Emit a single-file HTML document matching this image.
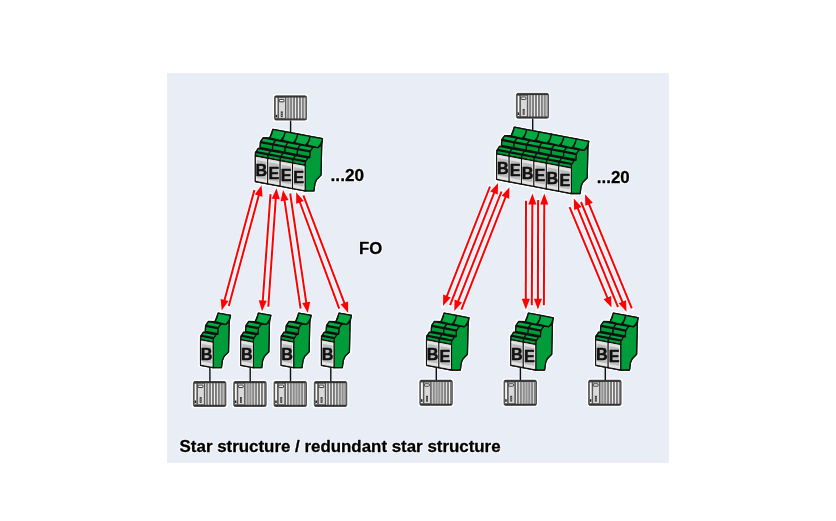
<!DOCTYPE html>
<html><head><meta charset="utf-8">
<style>
html,body{margin:0;padding:0;background:#fff;width:836px;height:521px;overflow:hidden;}
svg{display:block;will-change:transform;}
text{font-family:"Liberation Sans", sans-serif;}
</style></head>
<body>
<svg width="836" height="521" viewBox="0 0 836 521">
<rect x="167" y="73" width="502" height="390" fill="#e9eef6"/>
<line x1="254.40" y1="190.00" x2="221.70" y2="310.40" stroke="#f6fcff" stroke-width="4.2" stroke-linecap="round"/>
<line x1="228.80" y1="305.90" x2="261.50" y2="185.20" stroke="#f6fcff" stroke-width="4.2" stroke-linecap="round"/>
<line x1="270.50" y1="194.10" x2="262.00" y2="311.30" stroke="#f6fcff" stroke-width="4.2" stroke-linecap="round"/>
<line x1="268.30" y1="306.80" x2="276.50" y2="188.20" stroke="#f6fcff" stroke-width="4.2" stroke-linecap="round"/>
<line x1="300.60" y1="308.60" x2="283.00" y2="190.00" stroke="#f6fcff" stroke-width="4.2" stroke-linecap="round"/>
<line x1="290.20" y1="193.50" x2="307.80" y2="313.00" stroke="#f6fcff" stroke-width="4.2" stroke-linecap="round"/>
<line x1="339.20" y1="308.60" x2="296.20" y2="192.30" stroke="#f6fcff" stroke-width="4.2" stroke-linecap="round"/>
<line x1="303.40" y1="195.30" x2="348.20" y2="313.00" stroke="#f6fcff" stroke-width="4.2" stroke-linecap="round"/>
<line x1="490.00" y1="186.50" x2="443.00" y2="306.00" stroke="#f6fcff" stroke-width="4.2" stroke-linecap="round"/>
<line x1="450.10" y1="305.10" x2="498.00" y2="182.90" stroke="#f6fcff" stroke-width="4.2" stroke-linecap="round"/>
<line x1="501.50" y1="191.50" x2="454.30" y2="311.00" stroke="#f6fcff" stroke-width="4.2" stroke-linecap="round"/>
<line x1="461.40" y1="309.70" x2="509.40" y2="187.20" stroke="#f6fcff" stroke-width="4.2" stroke-linecap="round"/>
<line x1="526.00" y1="200.80" x2="525.80" y2="309.60" stroke="#f6fcff" stroke-width="4.2" stroke-linecap="round"/>
<line x1="531.80" y1="305.20" x2="532.40" y2="193.60" stroke="#f6fcff" stroke-width="4.2" stroke-linecap="round"/>
<line x1="538.10" y1="200.10" x2="537.90" y2="309.60" stroke="#f6fcff" stroke-width="4.2" stroke-linecap="round"/>
<line x1="543.90" y1="305.20" x2="544.30" y2="193.60" stroke="#f6fcff" stroke-width="4.2" stroke-linecap="round"/>
<line x1="569.60" y1="207.10" x2="611.50" y2="307.60" stroke="#f6fcff" stroke-width="4.2" stroke-linecap="round"/>
<line x1="618.00" y1="307.20" x2="573.80" y2="198.60" stroke="#f6fcff" stroke-width="4.2" stroke-linecap="round"/>
<line x1="581.00" y1="202.00" x2="626.50" y2="311.80" stroke="#f6fcff" stroke-width="4.2" stroke-linecap="round"/>
<line x1="631.80" y1="308.40" x2="585.00" y2="194.20" stroke="#f6fcff" stroke-width="4.2" stroke-linecap="round"/>
<line x1="254.40" y1="190.00" x2="224.27" y2="300.94" stroke="#ff0000" stroke-width="2.0"/>
<polygon points="221.70,310.40 220.67,298.93 228.39,301.03" fill="#ff0000"/>
<line x1="228.80" y1="305.90" x2="258.94" y2="194.66" stroke="#ff0000" stroke-width="2.0"/>
<polygon points="261.50,185.20 262.54,196.67 254.82,194.58" fill="#ff0000"/>
<line x1="270.50" y1="194.10" x2="262.71" y2="301.53" stroke="#ff0000" stroke-width="2.0"/>
<polygon points="262.00,311.30 258.79,300.24 266.77,300.82" fill="#ff0000"/>
<line x1="268.30" y1="306.80" x2="275.82" y2="197.98" stroke="#ff0000" stroke-width="2.0"/>
<polygon points="276.50,188.20 279.75,199.25 271.76,198.70" fill="#ff0000"/>
<line x1="300.60" y1="308.60" x2="284.44" y2="199.69" stroke="#ff0000" stroke-width="2.0"/>
<polygon points="283.00,190.00 288.54,200.10 280.63,201.27" fill="#ff0000"/>
<line x1="290.20" y1="193.50" x2="306.37" y2="303.30" stroke="#ff0000" stroke-width="2.0"/>
<polygon points="307.80,313.00 302.27,302.90 310.18,301.73" fill="#ff0000"/>
<line x1="339.20" y1="308.60" x2="299.60" y2="201.49" stroke="#ff0000" stroke-width="2.0"/>
<polygon points="296.20,192.30 303.70,201.04 296.19,203.82" fill="#ff0000"/>
<line x1="303.40" y1="195.30" x2="344.71" y2="303.84" stroke="#ff0000" stroke-width="2.0"/>
<polygon points="348.20,313.00 340.62,304.33 348.10,301.48" fill="#ff0000"/>
<line x1="490.00" y1="186.50" x2="446.59" y2="296.88" stroke="#ff0000" stroke-width="2.0"/>
<polygon points="443.00,306.00 443.23,294.49 450.68,297.41" fill="#ff0000"/>
<line x1="450.10" y1="305.10" x2="494.42" y2="192.02" stroke="#ff0000" stroke-width="2.0"/>
<polygon points="498.00,182.90 497.78,194.41 490.33,191.50" fill="#ff0000"/>
<line x1="501.50" y1="191.50" x2="457.90" y2="301.89" stroke="#ff0000" stroke-width="2.0"/>
<polygon points="454.30,311.00 454.55,299.49 461.99,302.42" fill="#ff0000"/>
<line x1="461.40" y1="309.70" x2="505.82" y2="196.32" stroke="#ff0000" stroke-width="2.0"/>
<polygon points="509.40,187.20 509.18,198.71 501.74,195.80" fill="#ff0000"/>
<line x1="526.00" y1="200.80" x2="525.82" y2="299.80" stroke="#ff0000" stroke-width="2.0"/>
<polygon points="525.80,309.60 521.82,298.79 529.82,298.81" fill="#ff0000"/>
<line x1="531.80" y1="305.20" x2="532.35" y2="203.40" stroke="#ff0000" stroke-width="2.0"/>
<polygon points="532.40,193.60 536.34,204.42 528.34,204.38" fill="#ff0000"/>
<line x1="538.10" y1="200.10" x2="537.92" y2="299.80" stroke="#ff0000" stroke-width="2.0"/>
<polygon points="537.90,309.60 533.92,298.79 541.92,298.81" fill="#ff0000"/>
<line x1="543.90" y1="305.20" x2="544.26" y2="203.40" stroke="#ff0000" stroke-width="2.0"/>
<polygon points="544.30,193.60 548.26,204.41 540.26,204.39" fill="#ff0000"/>
<line x1="569.60" y1="207.10" x2="607.73" y2="298.55" stroke="#ff0000" stroke-width="2.0"/>
<polygon points="611.50,307.60 603.65,299.17 611.04,296.09" fill="#ff0000"/>
<line x1="618.00" y1="307.20" x2="577.49" y2="207.68" stroke="#ff0000" stroke-width="2.0"/>
<polygon points="573.80,198.60 581.58,207.10 574.17,210.11" fill="#ff0000"/>
<line x1="581.00" y1="202.00" x2="622.75" y2="302.75" stroke="#ff0000" stroke-width="2.0"/>
<polygon points="626.50,311.80 618.67,303.35 626.06,300.29" fill="#ff0000"/>
<line x1="631.80" y1="308.40" x2="588.72" y2="203.27" stroke="#ff0000" stroke-width="2.0"/>
<polygon points="585.00,194.20 592.80,202.68 585.39,205.71" fill="#ff0000"/>
<rect x="272.80" y="94.10" width="35.50" height="27.70" rx="3" fill="#fff"/>
<rect x="274.50" y="95.80" width="32.10" height="24.30" rx="1.6" fill="#585858" stroke="#3a3a3a" stroke-width="0.75"/>
<rect x="274.90" y="95.90" width="31.30" height="1.5" rx="0.8" fill="#333"/>
<rect x="274.90" y="118.40" width="31.30" height="1.4" rx="0.7" fill="#333"/>
<rect x="275.30" y="97.70" width="2.6" height="20.60" fill="#f6f6f6" stroke="#444" stroke-width="0.6"/>
<rect x="275.70" y="114.80" width="1.5" height="2.6" fill="#222"/>
<rect x="278.70" y="97.70" width="6.6" height="20.60" fill="#d9d9d9" stroke="#444" stroke-width="0.6"/>
<rect x="279.20" y="99.40" width="4.8" height="2.4" rx="0.6" fill="#fafafa" stroke="#222" stroke-width="0.9"/>
<rect x="280.80" y="111.40" width="1.9" height="5.8" fill="#333"/>
<rect x="281.40" y="113.00" width="0.8" height="0.9" fill="#ccc"/>
<rect x="281.40" y="115.00" width="0.8" height="0.9" fill="#ccc"/>
<rect x="286.40" y="97.60" width="1.05" height="20.80" fill="#f2f2f2"/>
<rect x="287.95" y="97.60" width="0.85" height="20.80" fill="#9c9c9c"/>
<rect x="289.28" y="97.60" width="1.05" height="20.80" fill="#f2f2f2"/>
<rect x="290.83" y="97.60" width="0.85" height="20.80" fill="#9c9c9c"/>
<rect x="292.16" y="97.60" width="1.05" height="20.80" fill="#f2f2f2"/>
<rect x="293.71" y="97.60" width="0.85" height="20.80" fill="#9c9c9c"/>
<rect x="295.04" y="97.60" width="1.05" height="20.80" fill="#f2f2f2"/>
<rect x="296.59" y="97.60" width="0.85" height="20.80" fill="#9c9c9c"/>
<rect x="297.92" y="97.60" width="1.05" height="20.80" fill="#f2f2f2"/>
<rect x="299.47" y="97.60" width="0.85" height="20.80" fill="#9c9c9c"/>
<rect x="300.80" y="97.60" width="1.05" height="20.80" fill="#f2f2f2"/>
<rect x="302.35" y="97.60" width="0.85" height="20.80" fill="#9c9c9c"/>
<rect x="303.68" y="97.60" width="1.05" height="20.80" fill="#f2f2f2"/>
<rect x="305.23" y="97.60" width="0.85" height="20.80" fill="#9c9c9c"/>
<rect x="514.70" y="91.70" width="35.60" height="28.20" rx="3" fill="#fff"/>
<rect x="516.40" y="93.40" width="32.20" height="24.80" rx="1.6" fill="#585858" stroke="#3a3a3a" stroke-width="0.75"/>
<rect x="516.80" y="93.50" width="31.40" height="1.5" rx="0.8" fill="#333"/>
<rect x="516.80" y="116.50" width="31.40" height="1.4" rx="0.7" fill="#333"/>
<rect x="517.20" y="95.30" width="2.6" height="21.10" fill="#f6f6f6" stroke="#444" stroke-width="0.6"/>
<rect x="517.60" y="112.40" width="1.5" height="2.6" fill="#222"/>
<rect x="520.60" y="95.30" width="6.6" height="21.10" fill="#d9d9d9" stroke="#444" stroke-width="0.6"/>
<rect x="521.10" y="97.00" width="4.8" height="2.4" rx="0.6" fill="#fafafa" stroke="#222" stroke-width="0.9"/>
<rect x="522.70" y="109.00" width="1.9" height="5.8" fill="#333"/>
<rect x="523.30" y="110.60" width="0.8" height="0.9" fill="#ccc"/>
<rect x="523.30" y="112.60" width="0.8" height="0.9" fill="#ccc"/>
<rect x="528.30" y="95.20" width="1.05" height="21.30" fill="#f2f2f2"/>
<rect x="529.85" y="95.20" width="0.85" height="21.30" fill="#9c9c9c"/>
<rect x="531.18" y="95.20" width="1.05" height="21.30" fill="#f2f2f2"/>
<rect x="532.73" y="95.20" width="0.85" height="21.30" fill="#9c9c9c"/>
<rect x="534.06" y="95.20" width="1.05" height="21.30" fill="#f2f2f2"/>
<rect x="535.61" y="95.20" width="0.85" height="21.30" fill="#9c9c9c"/>
<rect x="536.94" y="95.20" width="1.05" height="21.30" fill="#f2f2f2"/>
<rect x="538.49" y="95.20" width="0.85" height="21.30" fill="#9c9c9c"/>
<rect x="539.82" y="95.20" width="1.05" height="21.30" fill="#f2f2f2"/>
<rect x="541.37" y="95.20" width="0.85" height="21.30" fill="#9c9c9c"/>
<rect x="542.70" y="95.20" width="1.05" height="21.30" fill="#f2f2f2"/>
<rect x="544.25" y="95.20" width="0.85" height="21.30" fill="#9c9c9c"/>
<rect x="545.58" y="95.20" width="1.05" height="21.30" fill="#f2f2f2"/>
<rect x="547.13" y="95.20" width="0.85" height="21.30" fill="#9c9c9c"/>
<polygon points="255.40,181.50 255.40,155.90 255.40,152.30 256.30,151.50 258.20,148.40 260.10,148.30 260.40,142.50 260.60,141.50 263.30,137.70 269.80,137.80 272.90,129.30 322.50,138.70 321.80,139.30 321.00,175.10 316.60,179.60 314.90,183.40 313.90,190.90 305.00,190.90" fill="#fff" stroke="#fff" stroke-width="4.2" stroke-linejoin="round"/>
<polygon points="255.40,181.50 255.40,155.90 255.40,152.30 256.30,151.50 258.20,148.40 260.10,148.30 260.40,142.50 260.60,141.50 263.30,137.70 269.80,137.80 272.90,129.30 322.50,138.70 321.80,139.30 321.00,175.10 316.60,179.60 314.90,183.40 313.90,190.90 305.00,190.90" fill="#111" stroke="#111" stroke-width="1.3" stroke-linejoin="round"/>
<polygon points="305.00,190.90 305.00,165.30 305.00,161.70 305.90,160.90 307.80,157.80 309.70,157.70 310.00,151.90 310.20,150.90 312.90,147.10 317.80,147.60 321.80,144.90 322.50,138.70 321.80,139.30 321.00,175.10 316.60,179.60 314.90,183.40 313.90,190.90" fill="#009c3a" stroke="#111" stroke-width="1.3" stroke-linejoin="round"/>
<polygon points="255.70,152.40 255.40,155.90 267.80,158.25 268.10,154.75" fill="#009c3a" stroke="#111" stroke-width="1.3" stroke-linejoin="round"/>
<polygon points="268.10,154.75 267.80,158.25 280.20,160.60 280.50,157.10" fill="#009c3a" stroke="#111" stroke-width="1.3" stroke-linejoin="round"/>
<polygon points="280.50,157.10 280.20,160.60 292.60,162.95 292.90,159.45" fill="#009c3a" stroke="#111" stroke-width="1.3" stroke-linejoin="round"/>
<polygon points="292.90,159.45 292.60,162.95 305.00,165.30 305.30,161.80" fill="#009c3a" stroke="#111" stroke-width="1.3" stroke-linejoin="round"/>
<polygon points="258.20,148.50 256.30,151.60 268.70,153.95 270.60,150.85" fill="#00ab42" stroke="#111" stroke-width="1.3" stroke-linejoin="round"/>
<polygon points="270.60,150.85 268.70,153.95 281.10,156.30 283.00,153.20" fill="#00ab42" stroke="#111" stroke-width="1.3" stroke-linejoin="round"/>
<polygon points="283.00,153.20 281.10,156.30 293.50,158.65 295.40,155.55" fill="#00ab42" stroke="#111" stroke-width="1.3" stroke-linejoin="round"/>
<polygon points="295.40,155.55 293.50,158.65 305.90,161.00 307.80,157.90" fill="#00ab42" stroke="#111" stroke-width="1.3" stroke-linejoin="round"/>
<polygon points="260.40,142.50 260.10,147.50 272.50,149.85 272.80,144.85" fill="#009c3a" stroke="#111" stroke-width="1.3" stroke-linejoin="round"/>
<polygon points="272.80,144.85 272.50,149.85 284.90,152.20 285.20,147.20" fill="#009c3a" stroke="#111" stroke-width="1.3" stroke-linejoin="round"/>
<polygon points="285.20,147.20 284.90,152.20 297.30,154.55 297.60,149.55" fill="#009c3a" stroke="#111" stroke-width="1.3" stroke-linejoin="round"/>
<polygon points="297.60,149.55 297.30,154.55 309.70,156.90 310.00,151.90" fill="#009c3a" stroke="#111" stroke-width="1.3" stroke-linejoin="round"/>
<polygon points="263.30,137.90 260.60,141.60 273.00,143.95 275.70,140.25" fill="#00ab42" stroke="#111" stroke-width="1.3" stroke-linejoin="round"/>
<polygon points="275.70,140.25 273.00,143.95 285.40,146.30 288.10,142.60" fill="#00ab42" stroke="#111" stroke-width="1.3" stroke-linejoin="round"/>
<polygon points="288.10,142.60 285.40,146.30 297.80,148.65 300.50,144.95" fill="#00ab42" stroke="#111" stroke-width="1.3" stroke-linejoin="round"/>
<polygon points="300.50,144.95 297.80,148.65 310.20,151.00 312.90,147.30" fill="#00ab42" stroke="#111" stroke-width="1.3" stroke-linejoin="round"/>
<path d="M272.90,129.30 L285.30,131.65 Q284.50,137.12 280.50,140.60 L269.80,137.90 Q272.35,133.60 272.90,129.30 Z" fill="#00ab42" stroke="#111" stroke-width="1.3" stroke-linejoin="round"/>
<path d="M285.30,131.65 L297.70,134.00 Q296.90,139.47 292.90,142.95 L282.20,140.25 Q284.75,135.95 285.30,131.65 Z" fill="#00ab42" stroke="#111" stroke-width="1.3" stroke-linejoin="round"/>
<path d="M297.70,134.00 L310.10,136.35 Q309.30,141.82 305.30,145.30 L294.60,142.60 Q297.15,138.30 297.70,134.00 Z" fill="#00ab42" stroke="#111" stroke-width="1.3" stroke-linejoin="round"/>
<path d="M310.10,136.35 L322.50,138.70 Q321.70,144.18 317.70,147.65 L307.00,144.95 Q309.55,140.65 310.10,136.35 Z" fill="#00ab42" stroke="#111" stroke-width="1.3" stroke-linejoin="round"/>
<polygon points="255.40,181.50 255.40,155.90 267.80,158.25 267.80,183.85" fill="#bcbcbc" stroke="#111" stroke-width="1.3" stroke-linejoin="round"/>
<polygon points="256.30,156.97 266.90,158.98 266.90,161.98 256.30,159.97" fill="#e2e2e2"/>
<polygon points="256.30,177.77 266.90,179.78 266.90,182.78 256.30,180.77" fill="#e2e2e2"/>
<line x1="256.40" y1="157.09" x2="256.40" y2="180.69" stroke="#f4f4f4" stroke-width="0.8"/>
<line x1="266.80" y1="159.06" x2="266.80" y2="182.66" stroke="#f4f4f4" stroke-width="0.8"/>
<polygon points="267.80,183.85 267.80,158.25 280.20,160.60 280.20,186.20" fill="#bcbcbc" stroke="#111" stroke-width="1.3" stroke-linejoin="round"/>
<polygon points="268.70,159.32 279.30,161.33 279.30,164.33 268.70,162.32" fill="#e2e2e2"/>
<polygon points="268.70,180.12 279.30,182.13 279.30,185.13 268.70,183.12" fill="#e2e2e2"/>
<line x1="268.80" y1="159.44" x2="268.80" y2="183.04" stroke="#f4f4f4" stroke-width="0.8"/>
<line x1="279.20" y1="161.41" x2="279.20" y2="185.01" stroke="#f4f4f4" stroke-width="0.8"/>
<polygon points="280.20,186.20 280.20,160.60 292.60,162.95 292.60,188.55" fill="#bcbcbc" stroke="#111" stroke-width="1.3" stroke-linejoin="round"/>
<polygon points="281.10,161.67 291.70,163.68 291.70,166.68 281.10,164.67" fill="#e2e2e2"/>
<polygon points="281.10,182.47 291.70,184.48 291.70,187.48 281.10,185.47" fill="#e2e2e2"/>
<line x1="281.20" y1="161.79" x2="281.20" y2="185.39" stroke="#f4f4f4" stroke-width="0.8"/>
<line x1="291.60" y1="163.76" x2="291.60" y2="187.36" stroke="#f4f4f4" stroke-width="0.8"/>
<polygon points="292.60,188.55 292.60,162.95 305.00,165.30 305.00,190.90" fill="#bcbcbc" stroke="#111" stroke-width="1.3" stroke-linejoin="round"/>
<polygon points="293.50,164.02 304.10,166.03 304.10,169.03 293.50,167.02" fill="#e2e2e2"/>
<polygon points="293.50,184.82 304.10,186.83 304.10,189.83 293.50,187.82" fill="#e2e2e2"/>
<line x1="293.60" y1="164.14" x2="293.60" y2="187.74" stroke="#f4f4f4" stroke-width="0.8"/>
<line x1="304.00" y1="166.11" x2="304.00" y2="189.71" stroke="#f4f4f4" stroke-width="0.8"/>
<text x="261.40" y="176.20" text-anchor="middle" font-family="Liberation Sans" font-weight="bold" font-size="16.2" fill="#111" stroke="#111" stroke-width="0.5">B</text>
<text x="273.80" y="178.55" text-anchor="middle" font-family="Liberation Sans" font-weight="bold" font-size="16.2" fill="#111" stroke="#111" stroke-width="0.5">E</text>
<text x="286.20" y="180.90" text-anchor="middle" font-family="Liberation Sans" font-weight="bold" font-size="16.2" fill="#111" stroke="#111" stroke-width="0.5">E</text>
<text x="298.60" y="183.25" text-anchor="middle" font-family="Liberation Sans" font-weight="bold" font-size="16.2" fill="#111" stroke="#111" stroke-width="0.5">E</text>
<polygon points="496.80,179.40 496.80,153.80 496.80,150.20 497.70,149.40 499.60,146.30 501.50,146.20 501.80,140.40 502.00,139.40 504.70,135.60 511.20,135.70 514.30,127.20 588.70,141.30 588.00,141.90 587.20,177.70 582.80,182.20 581.10,186.00 580.10,193.50 571.20,193.50" fill="#fff" stroke="#fff" stroke-width="4.2" stroke-linejoin="round"/>
<polygon points="496.80,179.40 496.80,153.80 496.80,150.20 497.70,149.40 499.60,146.30 501.50,146.20 501.80,140.40 502.00,139.40 504.70,135.60 511.20,135.70 514.30,127.20 588.70,141.30 588.00,141.90 587.20,177.70 582.80,182.20 581.10,186.00 580.10,193.50 571.20,193.50" fill="#111" stroke="#111" stroke-width="1.3" stroke-linejoin="round"/>
<polygon points="571.20,193.50 571.20,167.90 571.20,164.30 572.10,163.50 574.00,160.40 575.90,160.30 576.20,154.50 576.40,153.50 579.10,149.70 584.00,150.20 588.00,147.50 588.70,141.30 588.00,141.90 587.20,177.70 582.80,182.20 581.10,186.00 580.10,193.50" fill="#009c3a" stroke="#111" stroke-width="1.3" stroke-linejoin="round"/>
<polygon points="497.10,150.30 496.80,153.80 509.20,156.15 509.50,152.65" fill="#009c3a" stroke="#111" stroke-width="1.3" stroke-linejoin="round"/>
<polygon points="509.50,152.65 509.20,156.15 521.60,158.50 521.90,155.00" fill="#009c3a" stroke="#111" stroke-width="1.3" stroke-linejoin="round"/>
<polygon points="521.90,155.00 521.60,158.50 534.00,160.85 534.30,157.35" fill="#009c3a" stroke="#111" stroke-width="1.3" stroke-linejoin="round"/>
<polygon points="534.30,157.35 534.00,160.85 546.40,163.20 546.70,159.70" fill="#009c3a" stroke="#111" stroke-width="1.3" stroke-linejoin="round"/>
<polygon points="546.70,159.70 546.40,163.20 558.80,165.55 559.10,162.05" fill="#009c3a" stroke="#111" stroke-width="1.3" stroke-linejoin="round"/>
<polygon points="559.10,162.05 558.80,165.55 571.20,167.90 571.50,164.40" fill="#009c3a" stroke="#111" stroke-width="1.3" stroke-linejoin="round"/>
<polygon points="499.60,146.40 497.70,149.50 510.10,151.85 512.00,148.75" fill="#00ab42" stroke="#111" stroke-width="1.3" stroke-linejoin="round"/>
<polygon points="512.00,148.75 510.10,151.85 522.50,154.20 524.40,151.10" fill="#00ab42" stroke="#111" stroke-width="1.3" stroke-linejoin="round"/>
<polygon points="524.40,151.10 522.50,154.20 534.90,156.55 536.80,153.45" fill="#00ab42" stroke="#111" stroke-width="1.3" stroke-linejoin="round"/>
<polygon points="536.80,153.45 534.90,156.55 547.30,158.90 549.20,155.80" fill="#00ab42" stroke="#111" stroke-width="1.3" stroke-linejoin="round"/>
<polygon points="549.20,155.80 547.30,158.90 559.70,161.25 561.60,158.15" fill="#00ab42" stroke="#111" stroke-width="1.3" stroke-linejoin="round"/>
<polygon points="561.60,158.15 559.70,161.25 572.10,163.60 574.00,160.50" fill="#00ab42" stroke="#111" stroke-width="1.3" stroke-linejoin="round"/>
<polygon points="501.80,140.40 501.50,145.40 513.90,147.75 514.20,142.75" fill="#009c3a" stroke="#111" stroke-width="1.3" stroke-linejoin="round"/>
<polygon points="514.20,142.75 513.90,147.75 526.30,150.10 526.60,145.10" fill="#009c3a" stroke="#111" stroke-width="1.3" stroke-linejoin="round"/>
<polygon points="526.60,145.10 526.30,150.10 538.70,152.45 539.00,147.45" fill="#009c3a" stroke="#111" stroke-width="1.3" stroke-linejoin="round"/>
<polygon points="539.00,147.45 538.70,152.45 551.10,154.80 551.40,149.80" fill="#009c3a" stroke="#111" stroke-width="1.3" stroke-linejoin="round"/>
<polygon points="551.40,149.80 551.10,154.80 563.50,157.15 563.80,152.15" fill="#009c3a" stroke="#111" stroke-width="1.3" stroke-linejoin="round"/>
<polygon points="563.80,152.15 563.50,157.15 575.90,159.50 576.20,154.50" fill="#009c3a" stroke="#111" stroke-width="1.3" stroke-linejoin="round"/>
<polygon points="504.70,135.80 502.00,139.50 514.40,141.85 517.10,138.15" fill="#00ab42" stroke="#111" stroke-width="1.3" stroke-linejoin="round"/>
<polygon points="517.10,138.15 514.40,141.85 526.80,144.20 529.50,140.50" fill="#00ab42" stroke="#111" stroke-width="1.3" stroke-linejoin="round"/>
<polygon points="529.50,140.50 526.80,144.20 539.20,146.55 541.90,142.85" fill="#00ab42" stroke="#111" stroke-width="1.3" stroke-linejoin="round"/>
<polygon points="541.90,142.85 539.20,146.55 551.60,148.90 554.30,145.20" fill="#00ab42" stroke="#111" stroke-width="1.3" stroke-linejoin="round"/>
<polygon points="554.30,145.20 551.60,148.90 564.00,151.25 566.70,147.55" fill="#00ab42" stroke="#111" stroke-width="1.3" stroke-linejoin="round"/>
<polygon points="566.70,147.55 564.00,151.25 576.40,153.60 579.10,149.90" fill="#00ab42" stroke="#111" stroke-width="1.3" stroke-linejoin="round"/>
<path d="M514.30,127.20 L526.70,129.55 Q525.90,135.03 521.90,138.50 L511.20,135.80 Q513.75,131.50 514.30,127.20 Z" fill="#00ab42" stroke="#111" stroke-width="1.3" stroke-linejoin="round"/>
<path d="M526.70,129.55 L539.10,131.90 Q538.30,137.38 534.30,140.85 L523.60,138.15 Q526.15,133.85 526.70,129.55 Z" fill="#00ab42" stroke="#111" stroke-width="1.3" stroke-linejoin="round"/>
<path d="M539.10,131.90 L551.50,134.25 Q550.70,139.72 546.70,143.20 L536.00,140.50 Q538.55,136.20 539.10,131.90 Z" fill="#00ab42" stroke="#111" stroke-width="1.3" stroke-linejoin="round"/>
<path d="M551.50,134.25 L563.90,136.60 Q563.10,142.08 559.10,145.55 L548.40,142.85 Q550.95,138.55 551.50,134.25 Z" fill="#00ab42" stroke="#111" stroke-width="1.3" stroke-linejoin="round"/>
<path d="M563.90,136.60 L576.30,138.95 Q575.50,144.43 571.50,147.90 L560.80,145.20 Q563.35,140.90 563.90,136.60 Z" fill="#00ab42" stroke="#111" stroke-width="1.3" stroke-linejoin="round"/>
<path d="M576.30,138.95 L588.70,141.30 Q587.90,146.78 583.90,150.25 L573.20,147.55 Q575.75,143.25 576.30,138.95 Z" fill="#00ab42" stroke="#111" stroke-width="1.3" stroke-linejoin="round"/>
<polygon points="496.80,179.40 496.80,153.80 509.20,156.15 509.20,181.75" fill="#bcbcbc" stroke="#111" stroke-width="1.3" stroke-linejoin="round"/>
<polygon points="497.70,154.87 508.30,156.88 508.30,159.88 497.70,157.87" fill="#e2e2e2"/>
<polygon points="497.70,175.67 508.30,177.68 508.30,180.68 497.70,178.67" fill="#e2e2e2"/>
<line x1="497.80" y1="154.99" x2="497.80" y2="178.59" stroke="#f4f4f4" stroke-width="0.8"/>
<line x1="508.20" y1="156.96" x2="508.20" y2="180.56" stroke="#f4f4f4" stroke-width="0.8"/>
<polygon points="509.20,181.75 509.20,156.15 521.60,158.50 521.60,184.10" fill="#bcbcbc" stroke="#111" stroke-width="1.3" stroke-linejoin="round"/>
<polygon points="510.10,157.22 520.70,159.23 520.70,162.23 510.10,160.22" fill="#e2e2e2"/>
<polygon points="510.10,178.02 520.70,180.03 520.70,183.03 510.10,181.02" fill="#e2e2e2"/>
<line x1="510.20" y1="157.34" x2="510.20" y2="180.94" stroke="#f4f4f4" stroke-width="0.8"/>
<line x1="520.60" y1="159.31" x2="520.60" y2="182.91" stroke="#f4f4f4" stroke-width="0.8"/>
<polygon points="521.60,184.10 521.60,158.50 534.00,160.85 534.00,186.45" fill="#bcbcbc" stroke="#111" stroke-width="1.3" stroke-linejoin="round"/>
<polygon points="522.50,159.57 533.10,161.58 533.10,164.58 522.50,162.57" fill="#e2e2e2"/>
<polygon points="522.50,180.37 533.10,182.38 533.10,185.38 522.50,183.37" fill="#e2e2e2"/>
<line x1="522.60" y1="159.69" x2="522.60" y2="183.29" stroke="#f4f4f4" stroke-width="0.8"/>
<line x1="533.00" y1="161.66" x2="533.00" y2="185.26" stroke="#f4f4f4" stroke-width="0.8"/>
<polygon points="534.00,186.45 534.00,160.85 546.40,163.20 546.40,188.80" fill="#bcbcbc" stroke="#111" stroke-width="1.3" stroke-linejoin="round"/>
<polygon points="534.90,161.92 545.50,163.93 545.50,166.93 534.90,164.92" fill="#e2e2e2"/>
<polygon points="534.90,182.72 545.50,184.73 545.50,187.73 534.90,185.72" fill="#e2e2e2"/>
<line x1="535.00" y1="162.04" x2="535.00" y2="185.64" stroke="#f4f4f4" stroke-width="0.8"/>
<line x1="545.40" y1="164.01" x2="545.40" y2="187.61" stroke="#f4f4f4" stroke-width="0.8"/>
<polygon points="546.40,188.80 546.40,163.20 558.80,165.55 558.80,191.15" fill="#bcbcbc" stroke="#111" stroke-width="1.3" stroke-linejoin="round"/>
<polygon points="547.30,164.27 557.90,166.28 557.90,169.28 547.30,167.27" fill="#e2e2e2"/>
<polygon points="547.30,185.07 557.90,187.08 557.90,190.08 547.30,188.07" fill="#e2e2e2"/>
<line x1="547.40" y1="164.39" x2="547.40" y2="187.99" stroke="#f4f4f4" stroke-width="0.8"/>
<line x1="557.80" y1="166.36" x2="557.80" y2="189.96" stroke="#f4f4f4" stroke-width="0.8"/>
<polygon points="558.80,191.15 558.80,165.55 571.20,167.90 571.20,193.50" fill="#bcbcbc" stroke="#111" stroke-width="1.3" stroke-linejoin="round"/>
<polygon points="559.70,166.62 570.30,168.63 570.30,171.63 559.70,169.62" fill="#e2e2e2"/>
<polygon points="559.70,187.42 570.30,189.43 570.30,192.43 559.70,190.42" fill="#e2e2e2"/>
<line x1="559.80" y1="166.74" x2="559.80" y2="190.34" stroke="#f4f4f4" stroke-width="0.8"/>
<line x1="570.20" y1="168.71" x2="570.20" y2="192.31" stroke="#f4f4f4" stroke-width="0.8"/>
<text x="502.80" y="174.10" text-anchor="middle" font-family="Liberation Sans" font-weight="bold" font-size="16.2" fill="#111" stroke="#111" stroke-width="0.5">B</text>
<text x="515.20" y="176.45" text-anchor="middle" font-family="Liberation Sans" font-weight="bold" font-size="16.2" fill="#111" stroke="#111" stroke-width="0.5">E</text>
<text x="527.60" y="178.80" text-anchor="middle" font-family="Liberation Sans" font-weight="bold" font-size="16.2" fill="#111" stroke="#111" stroke-width="0.5">B</text>
<text x="540.00" y="181.15" text-anchor="middle" font-family="Liberation Sans" font-weight="bold" font-size="16.2" fill="#111" stroke="#111" stroke-width="0.5">E</text>
<text x="552.40" y="183.50" text-anchor="middle" font-family="Liberation Sans" font-weight="bold" font-size="16.2" fill="#111" stroke="#111" stroke-width="0.5">B</text>
<text x="564.80" y="185.85" text-anchor="middle" font-family="Liberation Sans" font-weight="bold" font-size="16.2" fill="#111" stroke="#111" stroke-width="0.5">E</text>
<polygon points="200.60,365.30 200.60,339.70 200.60,336.10 201.50,335.30 203.40,332.20 205.30,332.10 205.60,326.30 205.80,325.30 208.50,321.50 215.00,321.60 218.10,313.10 230.50,315.45 229.30,316.05 228.50,351.85 224.10,356.35 222.40,360.15 221.40,367.65 213.00,367.65" fill="#fff" stroke="#fff" stroke-width="4.2" stroke-linejoin="round"/>
<polygon points="200.60,365.30 200.60,339.70 200.60,336.10 201.50,335.30 203.40,332.20 205.30,332.10 205.60,326.30 205.80,325.30 208.50,321.50 215.00,321.60 218.10,313.10 230.50,315.45 229.30,316.05 228.50,351.85 224.10,356.35 222.40,360.15 221.40,367.65 213.00,367.65" fill="#111" stroke="#111" stroke-width="1.3" stroke-linejoin="round"/>
<polygon points="213.00,367.65 213.00,342.05 213.00,338.45 213.90,337.65 215.80,334.55 217.70,334.45 218.00,328.65 218.20,327.65 220.90,323.85 225.80,324.35 229.30,321.65 230.50,315.45 229.30,316.05 228.50,351.85 224.10,356.35 222.40,360.15 221.40,367.65" fill="#009c3a" stroke="#111" stroke-width="1.3" stroke-linejoin="round"/>
<polygon points="200.90,336.20 200.60,339.70 213.00,342.05 213.30,338.55" fill="#009c3a" stroke="#111" stroke-width="1.3" stroke-linejoin="round"/>
<polygon points="203.40,332.30 201.50,335.40 213.90,337.75 215.80,334.65" fill="#00ab42" stroke="#111" stroke-width="1.3" stroke-linejoin="round"/>
<polygon points="205.60,326.30 205.30,331.30 217.70,333.65 218.00,328.65" fill="#009c3a" stroke="#111" stroke-width="1.3" stroke-linejoin="round"/>
<polygon points="208.50,321.70 205.80,325.40 218.20,327.75 220.90,324.05" fill="#00ab42" stroke="#111" stroke-width="1.3" stroke-linejoin="round"/>
<path d="M218.10,313.10 L230.50,315.45 Q229.70,320.93 225.70,324.40 L215.00,321.70 Q217.55,317.40 218.10,313.10 Z" fill="#00ab42" stroke="#111" stroke-width="1.3" stroke-linejoin="round"/>
<polygon points="200.60,365.30 200.60,339.70 213.00,342.05 213.00,367.65" fill="#bcbcbc" stroke="#111" stroke-width="1.3" stroke-linejoin="round"/>
<polygon points="201.50,340.77 212.10,342.78 212.10,345.78 201.50,343.77" fill="#e2e2e2"/>
<polygon points="201.50,361.57 212.10,363.58 212.10,366.58 201.50,364.57" fill="#e2e2e2"/>
<line x1="201.60" y1="340.89" x2="201.60" y2="364.49" stroke="#f4f4f4" stroke-width="0.8"/>
<line x1="212.00" y1="342.86" x2="212.00" y2="366.46" stroke="#f4f4f4" stroke-width="0.8"/>
<text x="206.60" y="360.00" text-anchor="middle" font-family="Liberation Sans" font-weight="bold" font-size="16.2" fill="#111" stroke="#111" stroke-width="0.5">B</text>
<rect x="191.70" y="379.80" width="35.90" height="28.40" rx="3" fill="#fff"/>
<rect x="193.40" y="381.50" width="32.50" height="25.00" rx="1.6" fill="#585858" stroke="#3a3a3a" stroke-width="0.75"/>
<rect x="193.80" y="381.60" width="31.70" height="1.5" rx="0.8" fill="#333"/>
<rect x="193.80" y="404.80" width="31.70" height="1.4" rx="0.7" fill="#333"/>
<rect x="194.20" y="383.40" width="2.6" height="21.30" fill="#f6f6f6" stroke="#444" stroke-width="0.6"/>
<rect x="194.60" y="400.50" width="1.5" height="2.6" fill="#222"/>
<rect x="197.60" y="383.40" width="6.6" height="21.30" fill="#d9d9d9" stroke="#444" stroke-width="0.6"/>
<rect x="198.10" y="385.10" width="4.8" height="2.4" rx="0.6" fill="#fafafa" stroke="#222" stroke-width="0.9"/>
<rect x="199.70" y="397.10" width="1.9" height="5.8" fill="#333"/>
<rect x="200.30" y="398.70" width="0.8" height="0.9" fill="#ccc"/>
<rect x="200.30" y="400.70" width="0.8" height="0.9" fill="#ccc"/>
<rect x="205.30" y="383.30" width="1.05" height="21.50" fill="#f2f2f2"/>
<rect x="206.85" y="383.30" width="0.85" height="21.50" fill="#9c9c9c"/>
<rect x="208.18" y="383.30" width="1.05" height="21.50" fill="#f2f2f2"/>
<rect x="209.73" y="383.30" width="0.85" height="21.50" fill="#9c9c9c"/>
<rect x="211.06" y="383.30" width="1.05" height="21.50" fill="#f2f2f2"/>
<rect x="212.61" y="383.30" width="0.85" height="21.50" fill="#9c9c9c"/>
<rect x="213.94" y="383.30" width="1.05" height="21.50" fill="#f2f2f2"/>
<rect x="215.49" y="383.30" width="0.85" height="21.50" fill="#9c9c9c"/>
<rect x="216.82" y="383.30" width="1.05" height="21.50" fill="#f2f2f2"/>
<rect x="218.37" y="383.30" width="0.85" height="21.50" fill="#9c9c9c"/>
<rect x="219.70" y="383.30" width="1.05" height="21.50" fill="#f2f2f2"/>
<rect x="221.25" y="383.30" width="0.85" height="21.50" fill="#9c9c9c"/>
<rect x="222.58" y="383.30" width="1.05" height="21.50" fill="#f2f2f2"/>
<rect x="224.13" y="383.30" width="0.85" height="21.50" fill="#9c9c9c"/>
<polygon points="240.90,365.30 240.90,339.70 240.90,336.10 241.80,335.30 243.70,332.20 245.60,332.10 245.90,326.30 246.10,325.30 248.80,321.50 255.30,321.60 258.40,313.10 270.80,315.45 269.60,316.05 268.80,351.85 264.40,356.35 262.70,360.15 261.70,367.65 253.30,367.65" fill="#fff" stroke="#fff" stroke-width="4.2" stroke-linejoin="round"/>
<polygon points="240.90,365.30 240.90,339.70 240.90,336.10 241.80,335.30 243.70,332.20 245.60,332.10 245.90,326.30 246.10,325.30 248.80,321.50 255.30,321.60 258.40,313.10 270.80,315.45 269.60,316.05 268.80,351.85 264.40,356.35 262.70,360.15 261.70,367.65 253.30,367.65" fill="#111" stroke="#111" stroke-width="1.3" stroke-linejoin="round"/>
<polygon points="253.30,367.65 253.30,342.05 253.30,338.45 254.20,337.65 256.10,334.55 258.00,334.45 258.30,328.65 258.50,327.65 261.20,323.85 266.10,324.35 269.60,321.65 270.80,315.45 269.60,316.05 268.80,351.85 264.40,356.35 262.70,360.15 261.70,367.65" fill="#009c3a" stroke="#111" stroke-width="1.3" stroke-linejoin="round"/>
<polygon points="241.20,336.20 240.90,339.70 253.30,342.05 253.60,338.55" fill="#009c3a" stroke="#111" stroke-width="1.3" stroke-linejoin="round"/>
<polygon points="243.70,332.30 241.80,335.40 254.20,337.75 256.10,334.65" fill="#00ab42" stroke="#111" stroke-width="1.3" stroke-linejoin="round"/>
<polygon points="245.90,326.30 245.60,331.30 258.00,333.65 258.30,328.65" fill="#009c3a" stroke="#111" stroke-width="1.3" stroke-linejoin="round"/>
<polygon points="248.80,321.70 246.10,325.40 258.50,327.75 261.20,324.05" fill="#00ab42" stroke="#111" stroke-width="1.3" stroke-linejoin="round"/>
<path d="M258.40,313.10 L270.80,315.45 Q270.00,320.93 266.00,324.40 L255.30,321.70 Q257.85,317.40 258.40,313.10 Z" fill="#00ab42" stroke="#111" stroke-width="1.3" stroke-linejoin="round"/>
<polygon points="240.90,365.30 240.90,339.70 253.30,342.05 253.30,367.65" fill="#bcbcbc" stroke="#111" stroke-width="1.3" stroke-linejoin="round"/>
<polygon points="241.80,340.77 252.40,342.78 252.40,345.78 241.80,343.77" fill="#e2e2e2"/>
<polygon points="241.80,361.57 252.40,363.58 252.40,366.58 241.80,364.57" fill="#e2e2e2"/>
<line x1="241.90" y1="340.89" x2="241.90" y2="364.49" stroke="#f4f4f4" stroke-width="0.8"/>
<line x1="252.30" y1="342.86" x2="252.30" y2="366.46" stroke="#f4f4f4" stroke-width="0.8"/>
<text x="246.90" y="360.00" text-anchor="middle" font-family="Liberation Sans" font-weight="bold" font-size="16.2" fill="#111" stroke="#111" stroke-width="0.5">B</text>
<rect x="232.00" y="379.80" width="35.90" height="28.40" rx="3" fill="#fff"/>
<rect x="233.70" y="381.50" width="32.50" height="25.00" rx="1.6" fill="#585858" stroke="#3a3a3a" stroke-width="0.75"/>
<rect x="234.10" y="381.60" width="31.70" height="1.5" rx="0.8" fill="#333"/>
<rect x="234.10" y="404.80" width="31.70" height="1.4" rx="0.7" fill="#333"/>
<rect x="234.50" y="383.40" width="2.6" height="21.30" fill="#f6f6f6" stroke="#444" stroke-width="0.6"/>
<rect x="234.90" y="400.50" width="1.5" height="2.6" fill="#222"/>
<rect x="237.90" y="383.40" width="6.6" height="21.30" fill="#d9d9d9" stroke="#444" stroke-width="0.6"/>
<rect x="238.40" y="385.10" width="4.8" height="2.4" rx="0.6" fill="#fafafa" stroke="#222" stroke-width="0.9"/>
<rect x="240.00" y="397.10" width="1.9" height="5.8" fill="#333"/>
<rect x="240.60" y="398.70" width="0.8" height="0.9" fill="#ccc"/>
<rect x="240.60" y="400.70" width="0.8" height="0.9" fill="#ccc"/>
<rect x="245.60" y="383.30" width="1.05" height="21.50" fill="#f2f2f2"/>
<rect x="247.15" y="383.30" width="0.85" height="21.50" fill="#9c9c9c"/>
<rect x="248.48" y="383.30" width="1.05" height="21.50" fill="#f2f2f2"/>
<rect x="250.03" y="383.30" width="0.85" height="21.50" fill="#9c9c9c"/>
<rect x="251.36" y="383.30" width="1.05" height="21.50" fill="#f2f2f2"/>
<rect x="252.91" y="383.30" width="0.85" height="21.50" fill="#9c9c9c"/>
<rect x="254.24" y="383.30" width="1.05" height="21.50" fill="#f2f2f2"/>
<rect x="255.79" y="383.30" width="0.85" height="21.50" fill="#9c9c9c"/>
<rect x="257.12" y="383.30" width="1.05" height="21.50" fill="#f2f2f2"/>
<rect x="258.67" y="383.30" width="0.85" height="21.50" fill="#9c9c9c"/>
<rect x="260.00" y="383.30" width="1.05" height="21.50" fill="#f2f2f2"/>
<rect x="261.55" y="383.30" width="0.85" height="21.50" fill="#9c9c9c"/>
<rect x="262.88" y="383.30" width="1.05" height="21.50" fill="#f2f2f2"/>
<rect x="264.43" y="383.30" width="0.85" height="21.50" fill="#9c9c9c"/>
<polygon points="281.20,365.30 281.20,339.70 281.20,336.10 282.10,335.30 284.00,332.20 285.90,332.10 286.20,326.30 286.40,325.30 289.10,321.50 295.60,321.60 298.70,313.10 311.10,315.45 309.90,316.05 309.10,351.85 304.70,356.35 303.00,360.15 302.00,367.65 293.60,367.65" fill="#fff" stroke="#fff" stroke-width="4.2" stroke-linejoin="round"/>
<polygon points="281.20,365.30 281.20,339.70 281.20,336.10 282.10,335.30 284.00,332.20 285.90,332.10 286.20,326.30 286.40,325.30 289.10,321.50 295.60,321.60 298.70,313.10 311.10,315.45 309.90,316.05 309.10,351.85 304.70,356.35 303.00,360.15 302.00,367.65 293.60,367.65" fill="#111" stroke="#111" stroke-width="1.3" stroke-linejoin="round"/>
<polygon points="293.60,367.65 293.60,342.05 293.60,338.45 294.50,337.65 296.40,334.55 298.30,334.45 298.60,328.65 298.80,327.65 301.50,323.85 306.40,324.35 309.90,321.65 311.10,315.45 309.90,316.05 309.10,351.85 304.70,356.35 303.00,360.15 302.00,367.65" fill="#009c3a" stroke="#111" stroke-width="1.3" stroke-linejoin="round"/>
<polygon points="281.50,336.20 281.20,339.70 293.60,342.05 293.90,338.55" fill="#009c3a" stroke="#111" stroke-width="1.3" stroke-linejoin="round"/>
<polygon points="284.00,332.30 282.10,335.40 294.50,337.75 296.40,334.65" fill="#00ab42" stroke="#111" stroke-width="1.3" stroke-linejoin="round"/>
<polygon points="286.20,326.30 285.90,331.30 298.30,333.65 298.60,328.65" fill="#009c3a" stroke="#111" stroke-width="1.3" stroke-linejoin="round"/>
<polygon points="289.10,321.70 286.40,325.40 298.80,327.75 301.50,324.05" fill="#00ab42" stroke="#111" stroke-width="1.3" stroke-linejoin="round"/>
<path d="M298.70,313.10 L311.10,315.45 Q310.30,320.93 306.30,324.40 L295.60,321.70 Q298.15,317.40 298.70,313.10 Z" fill="#00ab42" stroke="#111" stroke-width="1.3" stroke-linejoin="round"/>
<polygon points="281.20,365.30 281.20,339.70 293.60,342.05 293.60,367.65" fill="#bcbcbc" stroke="#111" stroke-width="1.3" stroke-linejoin="round"/>
<polygon points="282.10,340.77 292.70,342.78 292.70,345.78 282.10,343.77" fill="#e2e2e2"/>
<polygon points="282.10,361.57 292.70,363.58 292.70,366.58 282.10,364.57" fill="#e2e2e2"/>
<line x1="282.20" y1="340.89" x2="282.20" y2="364.49" stroke="#f4f4f4" stroke-width="0.8"/>
<line x1="292.60" y1="342.86" x2="292.60" y2="366.46" stroke="#f4f4f4" stroke-width="0.8"/>
<text x="287.20" y="360.00" text-anchor="middle" font-family="Liberation Sans" font-weight="bold" font-size="16.2" fill="#111" stroke="#111" stroke-width="0.5">B</text>
<rect x="272.30" y="379.80" width="35.90" height="28.40" rx="3" fill="#fff"/>
<rect x="274.00" y="381.50" width="32.50" height="25.00" rx="1.6" fill="#585858" stroke="#3a3a3a" stroke-width="0.75"/>
<rect x="274.40" y="381.60" width="31.70" height="1.5" rx="0.8" fill="#333"/>
<rect x="274.40" y="404.80" width="31.70" height="1.4" rx="0.7" fill="#333"/>
<rect x="274.80" y="383.40" width="2.6" height="21.30" fill="#f6f6f6" stroke="#444" stroke-width="0.6"/>
<rect x="275.20" y="400.50" width="1.5" height="2.6" fill="#222"/>
<rect x="278.20" y="383.40" width="6.6" height="21.30" fill="#d9d9d9" stroke="#444" stroke-width="0.6"/>
<rect x="278.70" y="385.10" width="4.8" height="2.4" rx="0.6" fill="#fafafa" stroke="#222" stroke-width="0.9"/>
<rect x="280.30" y="397.10" width="1.9" height="5.8" fill="#333"/>
<rect x="280.90" y="398.70" width="0.8" height="0.9" fill="#ccc"/>
<rect x="280.90" y="400.70" width="0.8" height="0.9" fill="#ccc"/>
<rect x="285.90" y="383.30" width="1.05" height="21.50" fill="#f2f2f2"/>
<rect x="287.45" y="383.30" width="0.85" height="21.50" fill="#9c9c9c"/>
<rect x="288.78" y="383.30" width="1.05" height="21.50" fill="#f2f2f2"/>
<rect x="290.33" y="383.30" width="0.85" height="21.50" fill="#9c9c9c"/>
<rect x="291.66" y="383.30" width="1.05" height="21.50" fill="#f2f2f2"/>
<rect x="293.21" y="383.30" width="0.85" height="21.50" fill="#9c9c9c"/>
<rect x="294.54" y="383.30" width="1.05" height="21.50" fill="#f2f2f2"/>
<rect x="296.09" y="383.30" width="0.85" height="21.50" fill="#9c9c9c"/>
<rect x="297.42" y="383.30" width="1.05" height="21.50" fill="#f2f2f2"/>
<rect x="298.97" y="383.30" width="0.85" height="21.50" fill="#9c9c9c"/>
<rect x="300.30" y="383.30" width="1.05" height="21.50" fill="#f2f2f2"/>
<rect x="301.85" y="383.30" width="0.85" height="21.50" fill="#9c9c9c"/>
<rect x="303.18" y="383.30" width="1.05" height="21.50" fill="#f2f2f2"/>
<rect x="304.73" y="383.30" width="0.85" height="21.50" fill="#9c9c9c"/>
<polygon points="321.50,365.30 321.50,339.70 321.50,336.10 322.40,335.30 324.30,332.20 326.20,332.10 326.50,326.30 326.70,325.30 329.40,321.50 335.90,321.60 339.00,313.10 351.40,315.45 350.20,316.05 349.40,351.85 345.00,356.35 343.30,360.15 342.30,367.65 333.90,367.65" fill="#fff" stroke="#fff" stroke-width="4.2" stroke-linejoin="round"/>
<polygon points="321.50,365.30 321.50,339.70 321.50,336.10 322.40,335.30 324.30,332.20 326.20,332.10 326.50,326.30 326.70,325.30 329.40,321.50 335.90,321.60 339.00,313.10 351.40,315.45 350.20,316.05 349.40,351.85 345.00,356.35 343.30,360.15 342.30,367.65 333.90,367.65" fill="#111" stroke="#111" stroke-width="1.3" stroke-linejoin="round"/>
<polygon points="333.90,367.65 333.90,342.05 333.90,338.45 334.80,337.65 336.70,334.55 338.60,334.45 338.90,328.65 339.10,327.65 341.80,323.85 346.70,324.35 350.20,321.65 351.40,315.45 350.20,316.05 349.40,351.85 345.00,356.35 343.30,360.15 342.30,367.65" fill="#009c3a" stroke="#111" stroke-width="1.3" stroke-linejoin="round"/>
<polygon points="321.80,336.20 321.50,339.70 333.90,342.05 334.20,338.55" fill="#009c3a" stroke="#111" stroke-width="1.3" stroke-linejoin="round"/>
<polygon points="324.30,332.30 322.40,335.40 334.80,337.75 336.70,334.65" fill="#00ab42" stroke="#111" stroke-width="1.3" stroke-linejoin="round"/>
<polygon points="326.50,326.30 326.20,331.30 338.60,333.65 338.90,328.65" fill="#009c3a" stroke="#111" stroke-width="1.3" stroke-linejoin="round"/>
<polygon points="329.40,321.70 326.70,325.40 339.10,327.75 341.80,324.05" fill="#00ab42" stroke="#111" stroke-width="1.3" stroke-linejoin="round"/>
<path d="M339.00,313.10 L351.40,315.45 Q350.60,320.93 346.60,324.40 L335.90,321.70 Q338.45,317.40 339.00,313.10 Z" fill="#00ab42" stroke="#111" stroke-width="1.3" stroke-linejoin="round"/>
<polygon points="321.50,365.30 321.50,339.70 333.90,342.05 333.90,367.65" fill="#bcbcbc" stroke="#111" stroke-width="1.3" stroke-linejoin="round"/>
<polygon points="322.40,340.77 333.00,342.78 333.00,345.78 322.40,343.77" fill="#e2e2e2"/>
<polygon points="322.40,361.57 333.00,363.58 333.00,366.58 322.40,364.57" fill="#e2e2e2"/>
<line x1="322.50" y1="340.89" x2="322.50" y2="364.49" stroke="#f4f4f4" stroke-width="0.8"/>
<line x1="332.90" y1="342.86" x2="332.90" y2="366.46" stroke="#f4f4f4" stroke-width="0.8"/>
<text x="327.50" y="360.00" text-anchor="middle" font-family="Liberation Sans" font-weight="bold" font-size="16.2" fill="#111" stroke="#111" stroke-width="0.5">B</text>
<rect x="312.60" y="379.80" width="35.90" height="28.40" rx="3" fill="#fff"/>
<rect x="314.30" y="381.50" width="32.50" height="25.00" rx="1.6" fill="#585858" stroke="#3a3a3a" stroke-width="0.75"/>
<rect x="314.70" y="381.60" width="31.70" height="1.5" rx="0.8" fill="#333"/>
<rect x="314.70" y="404.80" width="31.70" height="1.4" rx="0.7" fill="#333"/>
<rect x="315.10" y="383.40" width="2.6" height="21.30" fill="#f6f6f6" stroke="#444" stroke-width="0.6"/>
<rect x="315.50" y="400.50" width="1.5" height="2.6" fill="#222"/>
<rect x="318.50" y="383.40" width="6.6" height="21.30" fill="#d9d9d9" stroke="#444" stroke-width="0.6"/>
<rect x="319.00" y="385.10" width="4.8" height="2.4" rx="0.6" fill="#fafafa" stroke="#222" stroke-width="0.9"/>
<rect x="320.60" y="397.10" width="1.9" height="5.8" fill="#333"/>
<rect x="321.20" y="398.70" width="0.8" height="0.9" fill="#ccc"/>
<rect x="321.20" y="400.70" width="0.8" height="0.9" fill="#ccc"/>
<rect x="326.20" y="383.30" width="1.05" height="21.50" fill="#f2f2f2"/>
<rect x="327.75" y="383.30" width="0.85" height="21.50" fill="#9c9c9c"/>
<rect x="329.08" y="383.30" width="1.05" height="21.50" fill="#f2f2f2"/>
<rect x="330.63" y="383.30" width="0.85" height="21.50" fill="#9c9c9c"/>
<rect x="331.96" y="383.30" width="1.05" height="21.50" fill="#f2f2f2"/>
<rect x="333.51" y="383.30" width="0.85" height="21.50" fill="#9c9c9c"/>
<rect x="334.84" y="383.30" width="1.05" height="21.50" fill="#f2f2f2"/>
<rect x="336.39" y="383.30" width="0.85" height="21.50" fill="#9c9c9c"/>
<rect x="337.72" y="383.30" width="1.05" height="21.50" fill="#f2f2f2"/>
<rect x="339.27" y="383.30" width="0.85" height="21.50" fill="#9c9c9c"/>
<rect x="340.60" y="383.30" width="1.05" height="21.50" fill="#f2f2f2"/>
<rect x="342.15" y="383.30" width="0.85" height="21.50" fill="#9c9c9c"/>
<rect x="343.48" y="383.30" width="1.05" height="21.50" fill="#f2f2f2"/>
<rect x="345.03" y="383.30" width="0.85" height="21.50" fill="#9c9c9c"/>
<polygon points="426.60,365.30 426.60,339.70 426.60,336.10 427.50,335.30 429.40,332.20 431.30,332.10 431.60,326.30 431.80,325.30 434.50,321.50 441.00,321.60 444.10,313.10 468.90,317.80 468.20,318.40 467.40,354.20 463.00,358.70 461.30,362.50 460.30,370.00 451.40,370.00" fill="#fff" stroke="#fff" stroke-width="4.2" stroke-linejoin="round"/>
<polygon points="426.60,365.30 426.60,339.70 426.60,336.10 427.50,335.30 429.40,332.20 431.30,332.10 431.60,326.30 431.80,325.30 434.50,321.50 441.00,321.60 444.10,313.10 468.90,317.80 468.20,318.40 467.40,354.20 463.00,358.70 461.30,362.50 460.30,370.00 451.40,370.00" fill="#111" stroke="#111" stroke-width="1.3" stroke-linejoin="round"/>
<polygon points="451.40,370.00 451.40,344.40 451.40,340.80 452.30,340.00 454.20,336.90 456.10,336.80 456.40,331.00 456.60,330.00 459.30,326.20 464.20,326.70 468.20,324.00 468.90,317.80 468.20,318.40 467.40,354.20 463.00,358.70 461.30,362.50 460.30,370.00" fill="#009c3a" stroke="#111" stroke-width="1.3" stroke-linejoin="round"/>
<polygon points="426.90,336.20 426.60,339.70 439.00,342.05 439.30,338.55" fill="#009c3a" stroke="#111" stroke-width="1.3" stroke-linejoin="round"/>
<polygon points="439.30,338.55 439.00,342.05 451.40,344.40 451.70,340.90" fill="#009c3a" stroke="#111" stroke-width="1.3" stroke-linejoin="round"/>
<polygon points="429.40,332.30 427.50,335.40 439.90,337.75 441.80,334.65" fill="#00ab42" stroke="#111" stroke-width="1.3" stroke-linejoin="round"/>
<polygon points="441.80,334.65 439.90,337.75 452.30,340.10 454.20,337.00" fill="#00ab42" stroke="#111" stroke-width="1.3" stroke-linejoin="round"/>
<polygon points="431.60,326.30 431.30,331.30 443.70,333.65 444.00,328.65" fill="#009c3a" stroke="#111" stroke-width="1.3" stroke-linejoin="round"/>
<polygon points="444.00,328.65 443.70,333.65 456.10,336.00 456.40,331.00" fill="#009c3a" stroke="#111" stroke-width="1.3" stroke-linejoin="round"/>
<polygon points="434.50,321.70 431.80,325.40 444.20,327.75 446.90,324.05" fill="#00ab42" stroke="#111" stroke-width="1.3" stroke-linejoin="round"/>
<polygon points="446.90,324.05 444.20,327.75 456.60,330.10 459.30,326.40" fill="#00ab42" stroke="#111" stroke-width="1.3" stroke-linejoin="round"/>
<path d="M444.10,313.10 L456.50,315.45 Q455.70,320.93 451.70,324.40 L441.00,321.70 Q443.55,317.40 444.10,313.10 Z" fill="#00ab42" stroke="#111" stroke-width="1.3" stroke-linejoin="round"/>
<path d="M456.50,315.45 L468.90,317.80 Q468.10,323.28 464.10,326.75 L453.40,324.05 Q455.95,319.75 456.50,315.45 Z" fill="#00ab42" stroke="#111" stroke-width="1.3" stroke-linejoin="round"/>
<polygon points="426.60,365.30 426.60,339.70 439.00,342.05 439.00,367.65" fill="#bcbcbc" stroke="#111" stroke-width="1.3" stroke-linejoin="round"/>
<polygon points="427.50,340.77 438.10,342.78 438.10,345.78 427.50,343.77" fill="#e2e2e2"/>
<polygon points="427.50,361.57 438.10,363.58 438.10,366.58 427.50,364.57" fill="#e2e2e2"/>
<line x1="427.60" y1="340.89" x2="427.60" y2="364.49" stroke="#f4f4f4" stroke-width="0.8"/>
<line x1="438.00" y1="342.86" x2="438.00" y2="366.46" stroke="#f4f4f4" stroke-width="0.8"/>
<polygon points="439.00,367.65 439.00,342.05 451.40,344.40 451.40,370.00" fill="#bcbcbc" stroke="#111" stroke-width="1.3" stroke-linejoin="round"/>
<polygon points="439.90,343.12 450.50,345.13 450.50,348.13 439.90,346.12" fill="#e2e2e2"/>
<polygon points="439.90,363.92 450.50,365.93 450.50,368.93 439.90,366.92" fill="#e2e2e2"/>
<line x1="440.00" y1="343.24" x2="440.00" y2="366.84" stroke="#f4f4f4" stroke-width="0.8"/>
<line x1="450.40" y1="345.21" x2="450.40" y2="368.81" stroke="#f4f4f4" stroke-width="0.8"/>
<text x="432.60" y="360.00" text-anchor="middle" font-family="Liberation Sans" font-weight="bold" font-size="16.2" fill="#111" stroke="#111" stroke-width="0.5">B</text>
<text x="445.00" y="362.35" text-anchor="middle" font-family="Liberation Sans" font-weight="bold" font-size="16.2" fill="#111" stroke="#111" stroke-width="0.5">E</text>
<rect x="418.10" y="378.50" width="35.90" height="28.60" rx="3" fill="#fff"/>
<rect x="419.80" y="380.20" width="32.50" height="25.20" rx="1.6" fill="#585858" stroke="#3a3a3a" stroke-width="0.75"/>
<rect x="420.20" y="380.30" width="31.70" height="1.5" rx="0.8" fill="#333"/>
<rect x="420.20" y="403.70" width="31.70" height="1.4" rx="0.7" fill="#333"/>
<rect x="420.60" y="382.10" width="2.6" height="21.50" fill="#f6f6f6" stroke="#444" stroke-width="0.6"/>
<rect x="421.00" y="399.20" width="1.5" height="2.6" fill="#222"/>
<rect x="424.00" y="382.10" width="6.6" height="21.50" fill="#d9d9d9" stroke="#444" stroke-width="0.6"/>
<rect x="424.50" y="383.80" width="4.8" height="2.4" rx="0.6" fill="#fafafa" stroke="#222" stroke-width="0.9"/>
<rect x="426.10" y="395.80" width="1.9" height="5.8" fill="#333"/>
<rect x="426.70" y="397.40" width="0.8" height="0.9" fill="#ccc"/>
<rect x="426.70" y="399.40" width="0.8" height="0.9" fill="#ccc"/>
<rect x="431.70" y="382.00" width="1.05" height="21.70" fill="#f2f2f2"/>
<rect x="433.25" y="382.00" width="0.85" height="21.70" fill="#9c9c9c"/>
<rect x="434.58" y="382.00" width="1.05" height="21.70" fill="#f2f2f2"/>
<rect x="436.13" y="382.00" width="0.85" height="21.70" fill="#9c9c9c"/>
<rect x="437.46" y="382.00" width="1.05" height="21.70" fill="#f2f2f2"/>
<rect x="439.01" y="382.00" width="0.85" height="21.70" fill="#9c9c9c"/>
<rect x="440.34" y="382.00" width="1.05" height="21.70" fill="#f2f2f2"/>
<rect x="441.89" y="382.00" width="0.85" height="21.70" fill="#9c9c9c"/>
<rect x="443.22" y="382.00" width="1.05" height="21.70" fill="#f2f2f2"/>
<rect x="444.77" y="382.00" width="0.85" height="21.70" fill="#9c9c9c"/>
<rect x="446.10" y="382.00" width="1.05" height="21.70" fill="#f2f2f2"/>
<rect x="447.65" y="382.00" width="0.85" height="21.70" fill="#9c9c9c"/>
<rect x="448.98" y="382.00" width="1.05" height="21.70" fill="#f2f2f2"/>
<rect x="450.53" y="382.00" width="0.85" height="21.70" fill="#9c9c9c"/>
<polygon points="510.90,365.30 510.90,339.70 510.90,336.10 511.80,335.30 513.70,332.20 515.60,332.10 515.90,326.30 516.10,325.30 518.80,321.50 525.30,321.60 528.40,313.10 553.20,317.80 552.50,318.40 551.70,354.20 547.30,358.70 545.60,362.50 544.60,370.00 535.70,370.00" fill="#fff" stroke="#fff" stroke-width="4.2" stroke-linejoin="round"/>
<polygon points="510.90,365.30 510.90,339.70 510.90,336.10 511.80,335.30 513.70,332.20 515.60,332.10 515.90,326.30 516.10,325.30 518.80,321.50 525.30,321.60 528.40,313.10 553.20,317.80 552.50,318.40 551.70,354.20 547.30,358.70 545.60,362.50 544.60,370.00 535.70,370.00" fill="#111" stroke="#111" stroke-width="1.3" stroke-linejoin="round"/>
<polygon points="535.70,370.00 535.70,344.40 535.70,340.80 536.60,340.00 538.50,336.90 540.40,336.80 540.70,331.00 540.90,330.00 543.60,326.20 548.50,326.70 552.50,324.00 553.20,317.80 552.50,318.40 551.70,354.20 547.30,358.70 545.60,362.50 544.60,370.00" fill="#009c3a" stroke="#111" stroke-width="1.3" stroke-linejoin="round"/>
<polygon points="511.20,336.20 510.90,339.70 523.30,342.05 523.60,338.55" fill="#009c3a" stroke="#111" stroke-width="1.3" stroke-linejoin="round"/>
<polygon points="523.60,338.55 523.30,342.05 535.70,344.40 536.00,340.90" fill="#009c3a" stroke="#111" stroke-width="1.3" stroke-linejoin="round"/>
<polygon points="513.70,332.30 511.80,335.40 524.20,337.75 526.10,334.65" fill="#00ab42" stroke="#111" stroke-width="1.3" stroke-linejoin="round"/>
<polygon points="526.10,334.65 524.20,337.75 536.60,340.10 538.50,337.00" fill="#00ab42" stroke="#111" stroke-width="1.3" stroke-linejoin="round"/>
<polygon points="515.90,326.30 515.60,331.30 528.00,333.65 528.30,328.65" fill="#009c3a" stroke="#111" stroke-width="1.3" stroke-linejoin="round"/>
<polygon points="528.30,328.65 528.00,333.65 540.40,336.00 540.70,331.00" fill="#009c3a" stroke="#111" stroke-width="1.3" stroke-linejoin="round"/>
<polygon points="518.80,321.70 516.10,325.40 528.50,327.75 531.20,324.05" fill="#00ab42" stroke="#111" stroke-width="1.3" stroke-linejoin="round"/>
<polygon points="531.20,324.05 528.50,327.75 540.90,330.10 543.60,326.40" fill="#00ab42" stroke="#111" stroke-width="1.3" stroke-linejoin="round"/>
<path d="M528.40,313.10 L540.80,315.45 Q540.00,320.93 536.00,324.40 L525.30,321.70 Q527.85,317.40 528.40,313.10 Z" fill="#00ab42" stroke="#111" stroke-width="1.3" stroke-linejoin="round"/>
<path d="M540.80,315.45 L553.20,317.80 Q552.40,323.28 548.40,326.75 L537.70,324.05 Q540.25,319.75 540.80,315.45 Z" fill="#00ab42" stroke="#111" stroke-width="1.3" stroke-linejoin="round"/>
<polygon points="510.90,365.30 510.90,339.70 523.30,342.05 523.30,367.65" fill="#bcbcbc" stroke="#111" stroke-width="1.3" stroke-linejoin="round"/>
<polygon points="511.80,340.77 522.40,342.78 522.40,345.78 511.80,343.77" fill="#e2e2e2"/>
<polygon points="511.80,361.57 522.40,363.58 522.40,366.58 511.80,364.57" fill="#e2e2e2"/>
<line x1="511.90" y1="340.89" x2="511.90" y2="364.49" stroke="#f4f4f4" stroke-width="0.8"/>
<line x1="522.30" y1="342.86" x2="522.30" y2="366.46" stroke="#f4f4f4" stroke-width="0.8"/>
<polygon points="523.30,367.65 523.30,342.05 535.70,344.40 535.70,370.00" fill="#bcbcbc" stroke="#111" stroke-width="1.3" stroke-linejoin="round"/>
<polygon points="524.20,343.12 534.80,345.13 534.80,348.13 524.20,346.12" fill="#e2e2e2"/>
<polygon points="524.20,363.92 534.80,365.93 534.80,368.93 524.20,366.92" fill="#e2e2e2"/>
<line x1="524.30" y1="343.24" x2="524.30" y2="366.84" stroke="#f4f4f4" stroke-width="0.8"/>
<line x1="534.70" y1="345.21" x2="534.70" y2="368.81" stroke="#f4f4f4" stroke-width="0.8"/>
<text x="516.90" y="360.00" text-anchor="middle" font-family="Liberation Sans" font-weight="bold" font-size="16.2" fill="#111" stroke="#111" stroke-width="0.5">B</text>
<text x="529.30" y="362.35" text-anchor="middle" font-family="Liberation Sans" font-weight="bold" font-size="16.2" fill="#111" stroke="#111" stroke-width="0.5">E</text>
<rect x="502.30" y="378.50" width="35.90" height="28.60" rx="3" fill="#fff"/>
<rect x="504.00" y="380.20" width="32.50" height="25.20" rx="1.6" fill="#585858" stroke="#3a3a3a" stroke-width="0.75"/>
<rect x="504.40" y="380.30" width="31.70" height="1.5" rx="0.8" fill="#333"/>
<rect x="504.40" y="403.70" width="31.70" height="1.4" rx="0.7" fill="#333"/>
<rect x="504.80" y="382.10" width="2.6" height="21.50" fill="#f6f6f6" stroke="#444" stroke-width="0.6"/>
<rect x="505.20" y="399.20" width="1.5" height="2.6" fill="#222"/>
<rect x="508.20" y="382.10" width="6.6" height="21.50" fill="#d9d9d9" stroke="#444" stroke-width="0.6"/>
<rect x="508.70" y="383.80" width="4.8" height="2.4" rx="0.6" fill="#fafafa" stroke="#222" stroke-width="0.9"/>
<rect x="510.30" y="395.80" width="1.9" height="5.8" fill="#333"/>
<rect x="510.90" y="397.40" width="0.8" height="0.9" fill="#ccc"/>
<rect x="510.90" y="399.40" width="0.8" height="0.9" fill="#ccc"/>
<rect x="515.90" y="382.00" width="1.05" height="21.70" fill="#f2f2f2"/>
<rect x="517.45" y="382.00" width="0.85" height="21.70" fill="#9c9c9c"/>
<rect x="518.78" y="382.00" width="1.05" height="21.70" fill="#f2f2f2"/>
<rect x="520.33" y="382.00" width="0.85" height="21.70" fill="#9c9c9c"/>
<rect x="521.66" y="382.00" width="1.05" height="21.70" fill="#f2f2f2"/>
<rect x="523.21" y="382.00" width="0.85" height="21.70" fill="#9c9c9c"/>
<rect x="524.54" y="382.00" width="1.05" height="21.70" fill="#f2f2f2"/>
<rect x="526.09" y="382.00" width="0.85" height="21.70" fill="#9c9c9c"/>
<rect x="527.42" y="382.00" width="1.05" height="21.70" fill="#f2f2f2"/>
<rect x="528.97" y="382.00" width="0.85" height="21.70" fill="#9c9c9c"/>
<rect x="530.30" y="382.00" width="1.05" height="21.70" fill="#f2f2f2"/>
<rect x="531.85" y="382.00" width="0.85" height="21.70" fill="#9c9c9c"/>
<rect x="533.18" y="382.00" width="1.05" height="21.70" fill="#f2f2f2"/>
<rect x="534.73" y="382.00" width="0.85" height="21.70" fill="#9c9c9c"/>
<polygon points="595.80,365.30 595.80,339.70 595.80,336.10 596.70,335.30 598.60,332.20 600.50,332.10 600.80,326.30 601.00,325.30 603.70,321.50 610.20,321.60 613.30,313.10 638.10,317.80 637.40,318.40 636.60,354.20 632.20,358.70 630.50,362.50 629.50,370.00 620.60,370.00" fill="#fff" stroke="#fff" stroke-width="4.2" stroke-linejoin="round"/>
<polygon points="595.80,365.30 595.80,339.70 595.80,336.10 596.70,335.30 598.60,332.20 600.50,332.10 600.80,326.30 601.00,325.30 603.70,321.50 610.20,321.60 613.30,313.10 638.10,317.80 637.40,318.40 636.60,354.20 632.20,358.70 630.50,362.50 629.50,370.00 620.60,370.00" fill="#111" stroke="#111" stroke-width="1.3" stroke-linejoin="round"/>
<polygon points="620.60,370.00 620.60,344.40 620.60,340.80 621.50,340.00 623.40,336.90 625.30,336.80 625.60,331.00 625.80,330.00 628.50,326.20 633.40,326.70 637.40,324.00 638.10,317.80 637.40,318.40 636.60,354.20 632.20,358.70 630.50,362.50 629.50,370.00" fill="#009c3a" stroke="#111" stroke-width="1.3" stroke-linejoin="round"/>
<polygon points="596.10,336.20 595.80,339.70 608.20,342.05 608.50,338.55" fill="#009c3a" stroke="#111" stroke-width="1.3" stroke-linejoin="round"/>
<polygon points="608.50,338.55 608.20,342.05 620.60,344.40 620.90,340.90" fill="#009c3a" stroke="#111" stroke-width="1.3" stroke-linejoin="round"/>
<polygon points="598.60,332.30 596.70,335.40 609.10,337.75 611.00,334.65" fill="#00ab42" stroke="#111" stroke-width="1.3" stroke-linejoin="round"/>
<polygon points="611.00,334.65 609.10,337.75 621.50,340.10 623.40,337.00" fill="#00ab42" stroke="#111" stroke-width="1.3" stroke-linejoin="round"/>
<polygon points="600.80,326.30 600.50,331.30 612.90,333.65 613.20,328.65" fill="#009c3a" stroke="#111" stroke-width="1.3" stroke-linejoin="round"/>
<polygon points="613.20,328.65 612.90,333.65 625.30,336.00 625.60,331.00" fill="#009c3a" stroke="#111" stroke-width="1.3" stroke-linejoin="round"/>
<polygon points="603.70,321.70 601.00,325.40 613.40,327.75 616.10,324.05" fill="#00ab42" stroke="#111" stroke-width="1.3" stroke-linejoin="round"/>
<polygon points="616.10,324.05 613.40,327.75 625.80,330.10 628.50,326.40" fill="#00ab42" stroke="#111" stroke-width="1.3" stroke-linejoin="round"/>
<path d="M613.30,313.10 L625.70,315.45 Q624.90,320.93 620.90,324.40 L610.20,321.70 Q612.75,317.40 613.30,313.10 Z" fill="#00ab42" stroke="#111" stroke-width="1.3" stroke-linejoin="round"/>
<path d="M625.70,315.45 L638.10,317.80 Q637.30,323.28 633.30,326.75 L622.60,324.05 Q625.15,319.75 625.70,315.45 Z" fill="#00ab42" stroke="#111" stroke-width="1.3" stroke-linejoin="round"/>
<polygon points="595.80,365.30 595.80,339.70 608.20,342.05 608.20,367.65" fill="#bcbcbc" stroke="#111" stroke-width="1.3" stroke-linejoin="round"/>
<polygon points="596.70,340.77 607.30,342.78 607.30,345.78 596.70,343.77" fill="#e2e2e2"/>
<polygon points="596.70,361.57 607.30,363.58 607.30,366.58 596.70,364.57" fill="#e2e2e2"/>
<line x1="596.80" y1="340.89" x2="596.80" y2="364.49" stroke="#f4f4f4" stroke-width="0.8"/>
<line x1="607.20" y1="342.86" x2="607.20" y2="366.46" stroke="#f4f4f4" stroke-width="0.8"/>
<polygon points="608.20,367.65 608.20,342.05 620.60,344.40 620.60,370.00" fill="#bcbcbc" stroke="#111" stroke-width="1.3" stroke-linejoin="round"/>
<polygon points="609.10,343.12 619.70,345.13 619.70,348.13 609.10,346.12" fill="#e2e2e2"/>
<polygon points="609.10,363.92 619.70,365.93 619.70,368.93 609.10,366.92" fill="#e2e2e2"/>
<line x1="609.20" y1="343.24" x2="609.20" y2="366.84" stroke="#f4f4f4" stroke-width="0.8"/>
<line x1="619.60" y1="345.21" x2="619.60" y2="368.81" stroke="#f4f4f4" stroke-width="0.8"/>
<text x="601.80" y="360.00" text-anchor="middle" font-family="Liberation Sans" font-weight="bold" font-size="16.2" fill="#111" stroke="#111" stroke-width="0.5">B</text>
<text x="614.20" y="362.35" text-anchor="middle" font-family="Liberation Sans" font-weight="bold" font-size="16.2" fill="#111" stroke="#111" stroke-width="0.5">E</text>
<rect x="586.90" y="378.50" width="35.90" height="28.60" rx="3" fill="#fff"/>
<rect x="588.60" y="380.20" width="32.50" height="25.20" rx="1.6" fill="#585858" stroke="#3a3a3a" stroke-width="0.75"/>
<rect x="589.00" y="380.30" width="31.70" height="1.5" rx="0.8" fill="#333"/>
<rect x="589.00" y="403.70" width="31.70" height="1.4" rx="0.7" fill="#333"/>
<rect x="589.40" y="382.10" width="2.6" height="21.50" fill="#f6f6f6" stroke="#444" stroke-width="0.6"/>
<rect x="589.80" y="399.20" width="1.5" height="2.6" fill="#222"/>
<rect x="592.80" y="382.10" width="6.6" height="21.50" fill="#d9d9d9" stroke="#444" stroke-width="0.6"/>
<rect x="593.30" y="383.80" width="4.8" height="2.4" rx="0.6" fill="#fafafa" stroke="#222" stroke-width="0.9"/>
<rect x="594.90" y="395.80" width="1.9" height="5.8" fill="#333"/>
<rect x="595.50" y="397.40" width="0.8" height="0.9" fill="#ccc"/>
<rect x="595.50" y="399.40" width="0.8" height="0.9" fill="#ccc"/>
<rect x="600.50" y="382.00" width="1.05" height="21.70" fill="#f2f2f2"/>
<rect x="602.05" y="382.00" width="0.85" height="21.70" fill="#9c9c9c"/>
<rect x="603.38" y="382.00" width="1.05" height="21.70" fill="#f2f2f2"/>
<rect x="604.93" y="382.00" width="0.85" height="21.70" fill="#9c9c9c"/>
<rect x="606.26" y="382.00" width="1.05" height="21.70" fill="#f2f2f2"/>
<rect x="607.81" y="382.00" width="0.85" height="21.70" fill="#9c9c9c"/>
<rect x="609.14" y="382.00" width="1.05" height="21.70" fill="#f2f2f2"/>
<rect x="610.69" y="382.00" width="0.85" height="21.70" fill="#9c9c9c"/>
<rect x="612.02" y="382.00" width="1.05" height="21.70" fill="#f2f2f2"/>
<rect x="613.57" y="382.00" width="0.85" height="21.70" fill="#9c9c9c"/>
<rect x="614.90" y="382.00" width="1.05" height="21.70" fill="#f2f2f2"/>
<rect x="616.45" y="382.00" width="0.85" height="21.70" fill="#9c9c9c"/>
<rect x="617.78" y="382.00" width="1.05" height="21.70" fill="#f2f2f2"/>
<rect x="619.33" y="382.00" width="0.85" height="21.70" fill="#9c9c9c"/>
<line x1="290.6" y1="120.6" x2="290.6" y2="132.6" stroke="#111" stroke-width="1.4"/>
<line x1="532.7" y1="118.7" x2="532.7" y2="130.3" stroke="#111" stroke-width="1.4"/>
<line x1="209.9" y1="367.2" x2="209.9" y2="381.4" stroke="#111" stroke-width="1.4"/>
<line x1="250.2" y1="367.2" x2="250.2" y2="381.4" stroke="#111" stroke-width="1.4"/>
<line x1="290.5" y1="367.2" x2="290.5" y2="381.4" stroke="#111" stroke-width="1.4"/>
<line x1="330.8" y1="367.2" x2="330.8" y2="381.4" stroke="#111" stroke-width="1.4"/>
<line x1="436.3" y1="367.2" x2="436.3" y2="380.1" stroke="#111" stroke-width="1.4"/>
<line x1="520.4" y1="367.2" x2="520.4" y2="380.1" stroke="#111" stroke-width="1.4"/>
<line x1="605.3" y1="367.2" x2="605.3" y2="380.1" stroke="#111" stroke-width="1.4"/>
<text x="330.6" y="181.4" font-family="Liberation Sans" font-weight="bold" font-size="17.2" fill="#fff" stroke="#fff" stroke-width="2.2" stroke-linejoin="round" opacity="0.85" text-anchor="start">...20</text><text x="330.6" y="181.4" font-family="Liberation Sans" font-weight="bold" font-size="17.2" fill="#000" stroke="#000" stroke-width="0.3" text-anchor="start">...20</text>
<text x="596.8" y="183.4" font-family="Liberation Sans" font-weight="bold" font-size="16.9" fill="#fff" stroke="#fff" stroke-width="2.2" stroke-linejoin="round" opacity="0.85" text-anchor="start">...20</text><text x="596.8" y="183.4" font-family="Liberation Sans" font-weight="bold" font-size="16.9" fill="#000" stroke="#000" stroke-width="0.3" text-anchor="start">...20</text>
<text x="359.0" y="253.7" font-family="Liberation Sans" font-weight="bold" font-size="16.7" fill="#fff" stroke="#fff" stroke-width="2.2" stroke-linejoin="round" opacity="0.85" text-anchor="start">FO</text><text x="359.0" y="253.7" font-family="Liberation Sans" font-weight="bold" font-size="16.7" fill="#000" stroke="#000" stroke-width="0.3" text-anchor="start">FO</text>
<text x="179.6" y="452.1" font-family="Liberation Sans" font-weight="bold" font-size="16.9" fill="#fff" stroke="#fff" stroke-width="2.2" stroke-linejoin="round" opacity="0.85" text-anchor="start">Star structure / redundant star structure</text><text x="179.6" y="452.1" font-family="Liberation Sans" font-weight="bold" font-size="16.9" fill="#000" stroke="#000" stroke-width="0.3" text-anchor="start">Star structure / redundant star structure</text>
</svg>
</body></html>
